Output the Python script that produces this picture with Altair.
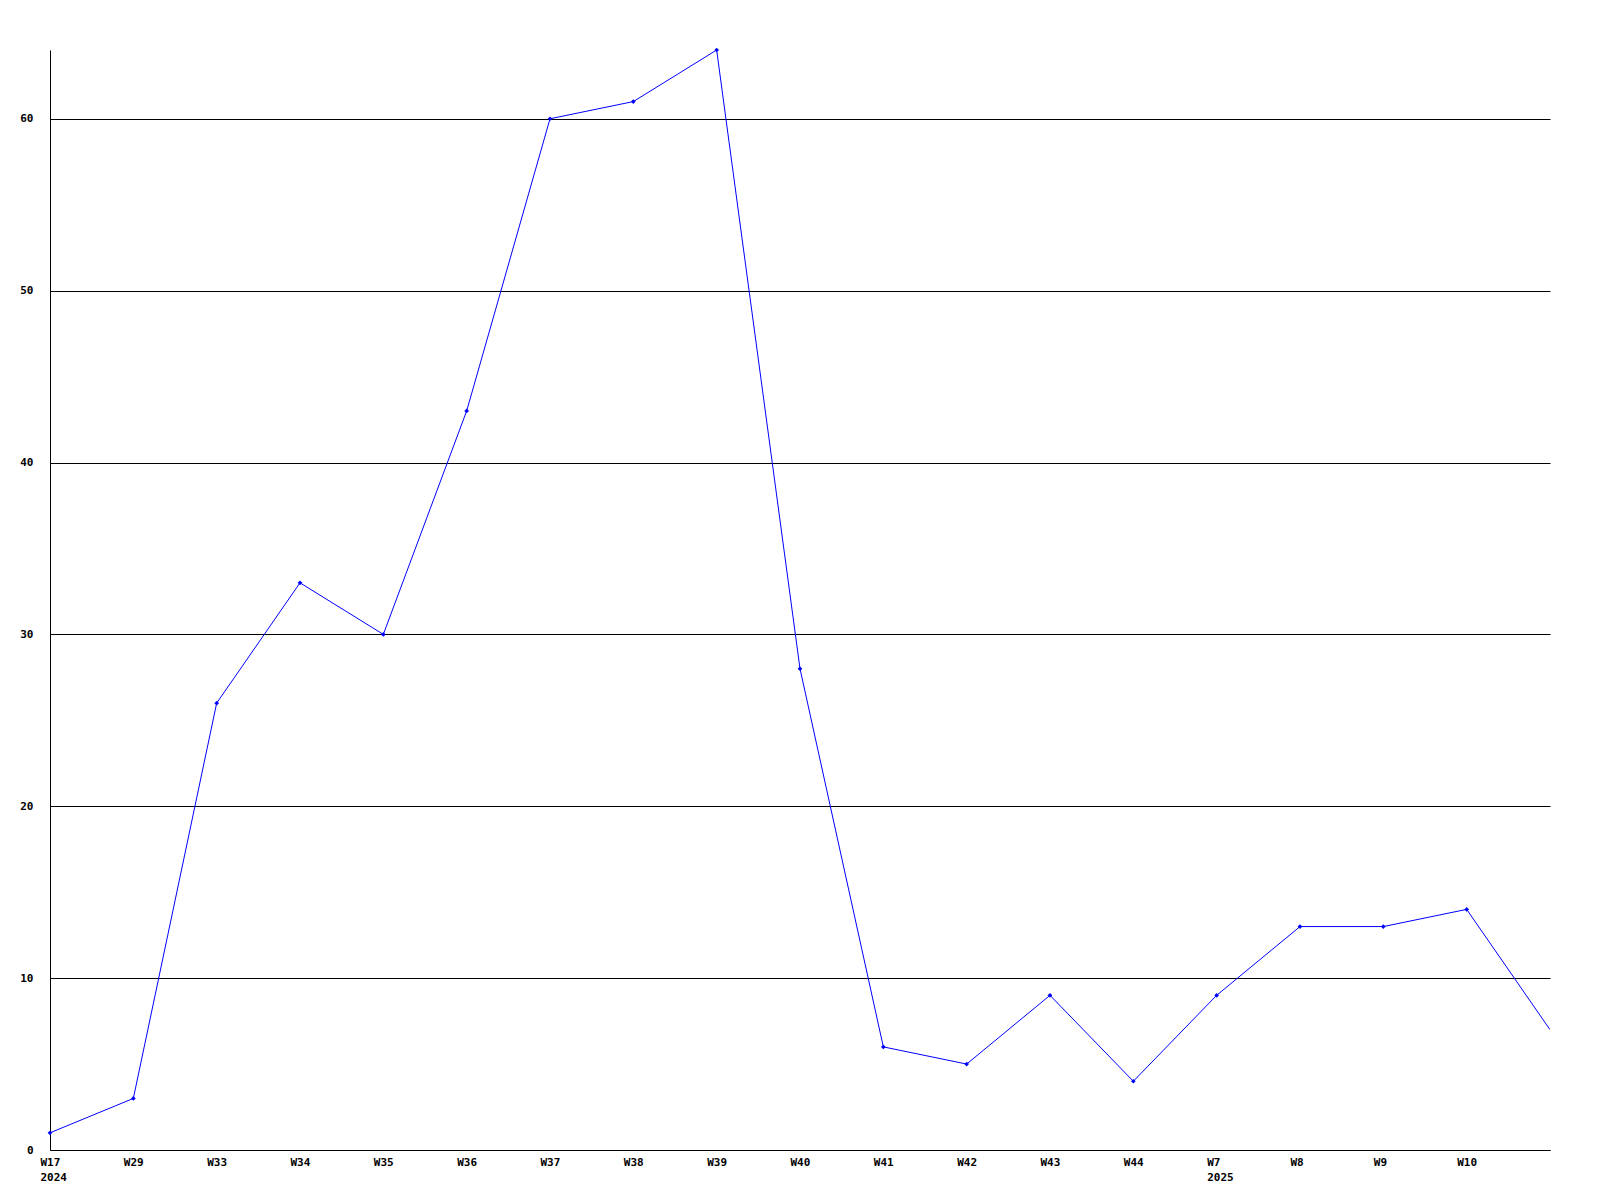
import altair as alt
import pandas as pd

weeks = ["W17", "W29", "W33", "W34", "W35", "W36", "W37", "W38", "W39", "W40",
         "W41", "W42", "W43", "W44", "W7", "W8", "W9", "W10", ""]
years = ["2024", "", "", "", "", "", "", "", "", "",
         "", "", "", "", "2025", "", "", "", ""]
values = [1, 3, 26, 33, 30, 43, 60, 61, 64, 28, 6, 5, 9, 4, 9, 13, 13, 14, 7]

df = pd.DataFrame({"week": weeks, "year": years, "value": values})

year_map = {w: y for w, y in zip(weeks, years) if y}
label_expr = " : ".join(
    [f"datum.value == '{w}' ? ['{w}', '{y}']" for w, y in year_map.items()]
) + " : datum.value"

font = "DejaVu Sans Mono"

x = alt.X("week:N", sort=weeks, title=None,
          scale=alt.Scale(type="point", padding=0),
          axis=alt.Axis(labelAngle=0, labelAlign="left", labelOffset=-10,
                        labelBaseline="top", labelPadding=6, labelLineHeight=15,
                        labelExpr=label_expr, ticks=False, grid=False,
                        domainColor="black", labelFont=font, labelFontSize=11,
                        labelFontWeight="bold", labelColor="black", labelOverlap=False))
y = alt.Y("value:Q", title=None,
          scale=alt.Scale(domain=[0, 64], nice=False, zero=True),
          axis=alt.Axis(values=[0, 10, 20, 30, 40, 50, 60], ticks=False, grid=True,
                        gridColor="black", gridOpacity=1, gridWidth=1,
                        domainColor="black", labelPadding=17, labelFont=font,
                        labelFontSize=11, labelFontWeight="bold", labelColor="black"))

line = alt.Chart(df).mark_line(color="#0000ff", strokeWidth=1, clip=True).encode(x=x, y=y)
pts = alt.Chart(df).transform_filter("datum.week != ''").mark_point(
    shape="diamond", filled=True, size=22, color="#0000ff", opacity=1
).encode(x=x, y=y)

chart = (line + pts).properties(
    width=1500, height=1100,
    autosize=alt.AutoSizeParams(type="none"),
    padding={"left": 42, "top": 42, "right": 40, "bottom": 40},
    background="white",
).configure_view(stroke=None, strokeWidth=0)

chart.save("out.html", embed_options={"renderer": "svg", "actions": False})
